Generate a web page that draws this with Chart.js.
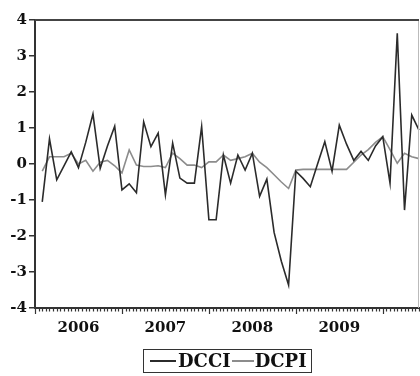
<!DOCTYPE html>
<html>
<head>
<meta charset="utf-8">
<script src="https://cdn.jsdelivr.net/npm/chart.js@4.4.1/dist/chart.umd.min.js"></script>
<style>
    html, body { margin: 0; padding: 0; background: #fff; }
    #wrap { position: relative; width: 420px; height: 376px; }
    #legend {
        position: absolute; left: 143px; top: 349px; height: 24px; width: 169px;
        box-sizing: border-box; border: 1.5px solid #333;
        font: bold 18px 'DejaVu Serif', serif; color: #111; line-height: 20px;
        display: flex; align-items: center; white-space: nowrap; overflow: hidden;
    }
    .swatch { display: inline-block; border-top: 2px solid; }
</style>
</head>
<body>
<div id="wrap">
    <canvas id="chart" width="420" height="376"></canvas>
    <div id="legend">
        <span class="swatch" style="border-color:#2b2b2b;width:26px;margin:0 2px 0 6px"></span>DCCI<span class="swatch" style="border-color:#8c8c8c;width:22px;margin:0 1px 0 1px"></span>DCPI
    </div>
</div>
<script>
    const months = [
        '2006M01', '2006M02', '2006M03', '2006M04', '2006M05', '2006M06', '2006M07', '2006M08', '2006M09', '2006M10', '2006M11', '2006M12',
        '2007M01', '2007M02', '2007M03', '2007M04', '2007M05', '2007M06', '2007M07', '2007M08', '2007M09', '2007M10', '2007M11', '2007M12',
        '2008M01', '2008M02', '2008M03', '2008M04', '2008M05', '2008M06', '2008M07', '2008M08', '2008M09', '2008M10', '2008M11', '2008M12',
        '2009M01', '2009M02', '2009M03', '2009M04', '2009M05', '2009M06', '2009M07', '2009M08', '2009M09', '2009M10', '2009M11', '2009M12',
        '2010M01', '2010M02', '2010M03', '2010M04', '2010M05', '2010M06',
    ];

    const dcci = [
        null, -1.05, 0.70, -0.44, -0.05, 0.34, -0.10, 0.60, 1.39, -0.12, 0.50, 1.05,
        -0.72, -0.55, -0.80, 1.17, 0.48, 0.86, -0.86, 0.58, -0.39, -0.53, -0.53, 1.04,
        -1.55, -1.55, 0.25, -0.53, 0.25, -0.17, 0.30, -0.90, -0.42, -1.90, -2.70, -3.36,
        -0.20, -0.40, -0.63, 0.00, 0.62, -0.20, 1.08, 0.55, 0.10, 0.35, 0.10, 0.50,
        0.76, -0.53, 3.63, -1.28, 1.36, 0.94,
    ];

    const dcpi = [
        null, -0.20, 0.20, 0.20, 0.20, 0.30, 0.00, 0.10, -0.20, 0.05, 0.10, -0.05,
        -0.25, 0.39, -0.03, -0.07, -0.07, -0.05, -0.10, 0.30, 0.15, -0.03, -0.03, -0.10,
        0.06, 0.06, 0.25, 0.10, 0.15, 0.20, 0.30, 0.05, -0.10, -0.30, -0.50, -0.68,
        -0.17, -0.15, -0.15, -0.15, -0.15, -0.15, -0.15, -0.15, 0.05, 0.25, 0.40, 0.60,
        0.76, 0.40, 0.02, 0.30, 0.20, 0.15,
    ];

    const yearTicks = [6, 18, 30, 42];
    const yearLabels = ['2006', '2007', '2008', '2009'];
    const yearStarts = [0, 12, 24, 36, 48];

    const axisColor = '#333';

    const frame = {
        id: 'frame',
        afterDraw(chart) {
            const { ctx, chartArea: a, scales } = chart;
            const x = scales.x;
            ctx.save();
            // light right border, dark top border
            ctx.strokeStyle = '#bbb';
            ctx.lineWidth = 1;
            ctx.beginPath();
            ctx.moveTo(a.right - 0.5, a.top);
            ctx.lineTo(a.right - 0.5, a.bottom);
            ctx.stroke();
            ctx.strokeStyle = '#444';
            ctx.lineWidth = 2;
            ctx.beginPath();
            ctx.moveTo(a.left, a.top);
            ctx.lineTo(a.right, a.top);
            ctx.stroke();
            // half-month ticks under the time axis, longer at each new year
            ctx.strokeStyle = axisColor;
            ctx.lineWidth = 1.2;
            for (let i = 0; i <= (months.length - 1) * 2; i++) {
                const v = i / 2;
                const px = Math.round(x.getPixelForValue(v)) + 0.5;
                const len = yearStarts.includes(v) ? 6 : 3.5;
                ctx.beginPath();
                ctx.moveTo(px, a.bottom);
                ctx.lineTo(px, a.bottom + len);
                ctx.stroke();
            }
            ctx.restore();
        },
    };

    new Chart(document.getElementById('chart'), {
        type: 'line',
        data: {
            labels: months,
            datasets: [
                {
                    label: 'DCCI',
                    data: dcci,
                    borderColor: '#2b2b2b',
                    borderWidth: 1.6,
                    pointRadius: 0,
                    tension: 0,
                },
                {
                    label: 'DCPI',
                    data: dcpi,
                    borderColor: '#8c8c8c',
                    borderWidth: 1.6,
                    pointRadius: 0,
                    tension: 0,
                },
            ],
        },
        options: {
            responsive: false,
            animation: false,
            layout: { padding: { top: 20, right: 1, left: 0, bottom: 0 } },
            plugins: { legend: { display: false }, tooltip: { enabled: false } },
            scales: {
                x: {
                    type: 'category',
                    offset: false,
                    grid: { display: false },
                    border: { display: true, color: axisColor, width: 2 },
                    afterBuildTicks(scale) {
                        scale.ticks = yearTicks.map(v => ({ value: v }));
                    },
                    afterFit(scale) { scale.height = 68; },
                    ticks: {
                        autoSkip: false,
                        maxRotation: 0,
                        padding: 3,
                        color: '#111',
                        font: { family: 'DejaVu Serif', weight: 'bold', size: 15 },
                        callback: v => yearLabels[yearTicks.indexOf(v)],
                    },
                },
                y: {
                    min: -4,
                    max: 4,
                    afterFit(scale) { scale.width = 35; },
                    grid: { drawOnChartArea: false, tickLength: 6, color: axisColor, lineWidth: 1.5 },
                    border: { display: true, color: axisColor, width: 2 },
                    ticks: {
                        stepSize: 1,
                        padding: 2,
                        color: '#111',
                        font: { family: 'DejaVu Serif', weight: 'bold', size: 15 },
                    },
                },
            },
        },
        plugins: [frame],
    });
</script>
</body>
</html>
